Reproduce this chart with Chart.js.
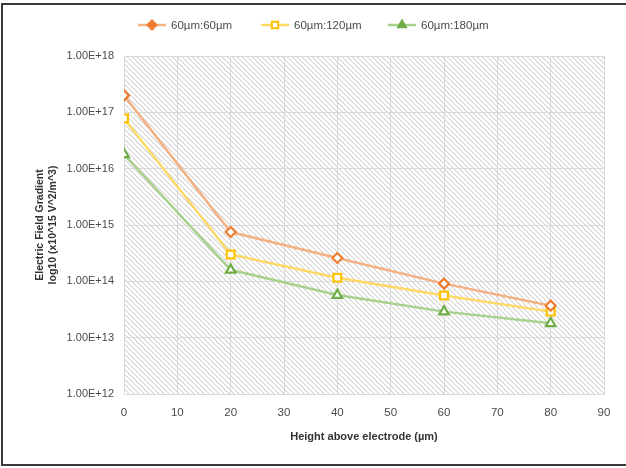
<!DOCTYPE html>
<html>
<head>
<meta charset="utf-8">
<script src="https://cdn.jsdelivr.net/npm/chart.js@4.4.0/dist/chart.umd.min.js"></script>
<style>
  html, body { margin: 0; padding: 0; background: #fff; }
  #wrap { position: relative; width: 626px; height: 468px; overflow: hidden; }
  #frame { position: absolute; left: 1px; top: 3px; width: 640px; height: 459px; border: 2px solid #3a3a3a; pointer-events: none; }
  canvas { position: absolute; left: 0; top: 0; }
</style>
</head>
<body>
<div id="wrap">
  <canvas id="myChart" width="626" height="468"></canvas>
  <div id="frame"></div>
</div>
<script>
// ============================================================================
// data
// ============================================================================
const heights = [0, 20, 40, 60, 80];
const seriesNames = ["60µm:60µm", "60µm:120µm", "60µm:180µm"];
const gradient60 = [2.0e17, 7.5e14, 2.6e14, 9.1e13, 3.7e13];
const gradient120 = [7.8e16, 3.0e14, 1.16e14, 5.6e13, 2.9e13];
const gradient180 = [1.8e16, 1.6e14, 5.7e13, 2.9e13, 1.8e13];
const yTicks = [1e12, 1e13, 1e14, 1e15, 1e16, 1e17, 1e18];

const lineColors = ["#F4B183", "#FFD966", "#A9D18E"];
const markColors = ["#ED7D31", "#FFC000", "#70AD47"];
const markStyles = ["rectRot", "rect", "triangle"];
const textColor = "#4a4a4a";
const fontFam = "'Liberation Sans', Arial, sans-serif";

// hatch pattern for the plot area (diagonal \ lines)
function makeHatch() {
  const c = document.createElement("canvas");
  c.width = 5;
  c.height = 5;
  const g = c.getContext("2d");
  const img = g.createImageData(5, 5);
  for (let y = 0; y < 5; y++) {
    for (let x = 0; x < 5; x++) {
      const k = (((x - y) % 5) + 5) % 5;
      let v = 255;
      if (k === 0) v = 212;
      else if (k === 1) v = 236;
      const i = (y * 5 + x) * 4;
      img.data[i] = v;
      img.data[i + 1] = v;
      img.data[i + 2] = v;
      img.data[i + 3] = 255;
    }
  }
  g.putImageData(img, 0, 0);
  return c;
}

const hatchBg = {
  id: "hatchBg",
  beforeDraw(chart) {
    const { ctx, chartArea: a } = chart;
    ctx.save();
    ctx.fillStyle = ctx.createPattern(makeHatch(), "repeat");
    ctx.fillRect(a.left, a.top, a.right - a.left, a.bottom - a.top);
    ctx.restore();
  },
};

// legend: line + marker + text, like the office style one
const topLegend = {
  id: "topLegend",
  afterDraw(chart) {
    const ctx = chart.ctx;
    const items = [
      { x: 138, fill: markColors[0] },
      { x: 261, fill: "#ffffff" },
      { x: 388, fill: markColors[2] },
    ];
    const y = 25;
    ctx.save();
    items.forEach((it, i) => {
      ctx.strokeStyle = lineColors[i];
      ctx.lineWidth = 2.5;
      ctx.beginPath();
      ctx.moveTo(it.x, y);
      ctx.lineTo(it.x + 28, y);
      ctx.stroke();
      ctx.fillStyle = it.fill;
      ctx.strokeStyle = markColors[i];
      ctx.lineWidth = 2;
      Chart.helpers.drawPoint(ctx, { pointStyle: markStyles[i], radius: 4.5, borderWidth: 2, rotation: 0 }, it.x + 14, y);
      ctx.fillStyle = textColor;
      ctx.font = "11.5px " + fontFam;
      ctx.textBaseline = "middle";
      ctx.textAlign = "left";
      ctx.fillText(seriesNames[i], it.x + 33, y + 1);
    });
    ctx.restore();
  },
};

function makeSet(i, values) {
  return {
    label: seriesNames[i],
    data: heights.map((h, k) => ({ x: h, y: values[k] })),
    borderColor: lineColors[i],
    borderWidth: 2.5,
    pointStyle: markStyles[i],
    pointRadius: i === 0 ? 5 : 5.5,
    pointBorderWidth: 2.2,
    pointBorderColor: markColors[i],
    pointBackgroundColor: "#ffffff",
    tension: 0,
  };
}

const ctx = document.getElementById("myChart").getContext("2d");
new Chart(ctx, {
  type: "line",
  data: {
    datasets: [
      makeSet(0, gradient60),
      makeSet(1, gradient120),
      makeSet(2, gradient180),
    ],
  },
  options: {
    responsive: false,
    animation: false,
    layout: { padding: { left: 10, right: 22, top: 56, bottom: 20 } },
    plugins: {
      legend: { display: false },
      tooltip: { enabled: false },
    },
    scales: {
      x: {
        type: "linear",
        min: 0,
        max: 90,
        afterFit: (s) => { s.height = 54; },
        ticks: { stepSize: 10, padding: 12, color: textColor, font: { size: 11.5, family: fontFam } },
        grid: { color: "#d9d9d9", drawTicks: false },
        border: { color: "#d9d9d9" },
        title: {
          display: true,
          text: "Height above electrode (µm)",
          color: "#333333",
          font: { size: 11, weight: "bold", family: fontFam },
          padding: { top: 4, bottom: 4 },
        },
      },
      y: {
        type: "logarithmic",
        min: 1e12,
        max: 1e18,
        afterFit: (s) => { s.width = 114; },
        afterBuildTicks: (s) => { s.ticks = yTicks.map((v) => ({ value: v })); },
        ticks: {
          padding: 10,
          color: textColor,
          font: { size: 11, family: fontFam },
          callback: (v) => Number(v).toExponential(2).toUpperCase(),
        },
        grid: { color: "#d9d9d9", drawTicks: false },
        border: { color: "#d9d9d9" },
        title: {
          display: true,
          text: ["Electric Field Gradient", "log10 (x10^15 V^2/m^3)"],
          color: "#333333",
          font: { size: 10.5, weight: "bold", family: fontFam },
          padding: { top: 24, bottom: 0 },
        },
      },
    },
  },
  plugins: [hatchBg, topLegend],
});
</script>
</body>
</html>
